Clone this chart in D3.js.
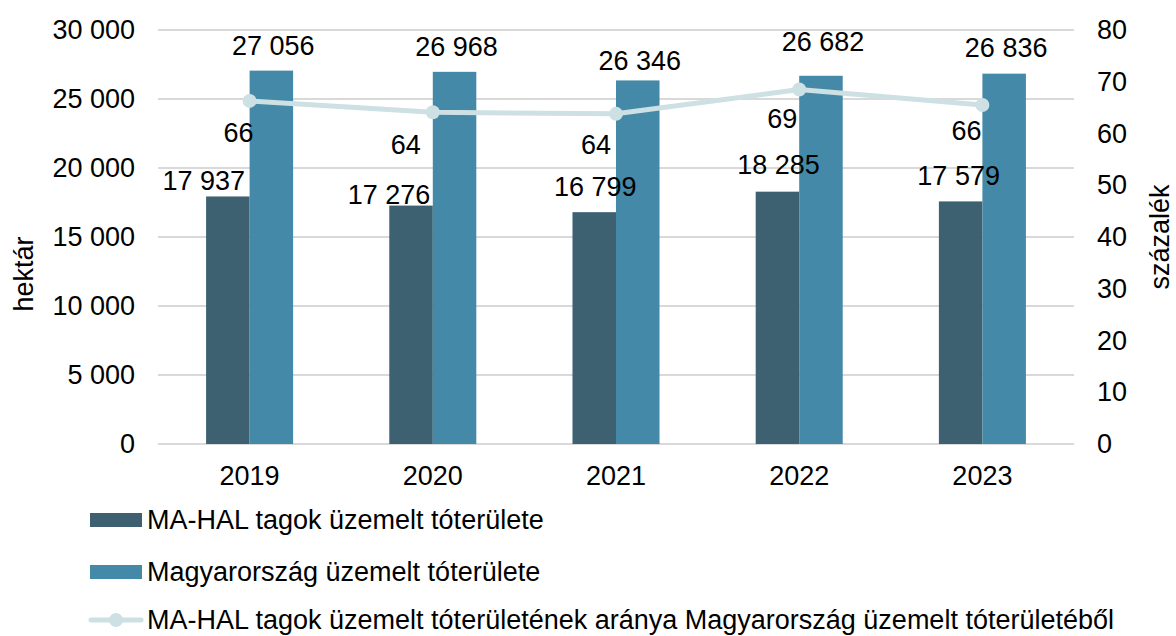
<!DOCTYPE html>
<html><head><meta charset="utf-8">
<script src="https://cdn.jsdelivr.net/npm/d3@7"></script>
<style>
html,body{margin:0;padding:0;background:#fff;}
svg{display:block;font-family:"Liberation Sans",Arial,sans-serif;}
</style></head>
<body>
<svg id="c" width="1176" height="636"></svg>
<script>
const years = ["2019","2020","2021","2022","2023"];
const mahal = [17937, 17276, 16799, 18285, 17579];
const hungary = [27056, 26968, 26346, 26682, 26836];
const share = [66.3, 64.1, 63.8, 68.5, 65.5];
const shareLabels = ["66","64","64","69","66"];
const leftTicks = [0,5000,10000,15000,20000,25000,30000];
const rightTicks = [0,10,20,30,40,50,60,70,80];
const seriesNames = ["MA-HAL tagok üzemelt tóterülete","Magyarország üzemelt tóterülete","MA-HAL tagok üzemelt tóterületének aránya Magyarország üzemelt tóterületéből"];

const colDark = "#3d6170", colLight = "#4489a7", colLine = "#cde0e3", colGrid = "#d9d9d9";
const fs = 27;
const svg = d3.select("#c");
const L = 158, R = 1074, T = 30, B = 444;

const x = d3.scaleBand().domain(years).range([L, R]).padding(0);
const yL = d3.scaleLinear().domain([0, 30000]).range([B, T]);
const yR = d3.scaleLinear().domain([0, 80]).range([B, T]);
const bw = x.bandwidth() * 0.2375;
const fmt = v => d3.format(",")(v).replace(/,/g, " ");
const ff = "Liberation Sans, Arial, sans-serif";

// gridlines
svg.append("g").selectAll("line").data(leftTicks).join("line")
  .attr("x1", L).attr("x2", R).attr("y1", d => yL(d)).attr("y2", d => yL(d))
  .attr("stroke", colGrid).attr("stroke-width", 2);

// left axis
const gl = svg.append("g").attr("transform", `translate(${L},0)`)
  .call(d3.axisLeft(yL).tickValues(leftTicks).tickFormat(fmt).tickSize(0).tickPadding(23));
gl.select(".domain").remove();
gl.selectAll("text").attr("font-size", fs).attr("fill", "#000").attr("font-family", ff);

// right axis
const gr = svg.append("g").attr("transform", `translate(${R},0)`)
  .call(d3.axisRight(yR).tickValues(rightTicks).tickSize(0).tickPadding(23));
gr.select(".domain").remove();
gr.selectAll("text").attr("font-size", fs).attr("fill", "#000").attr("font-family", ff);

// x axis
const gx = svg.append("g").attr("transform", `translate(0,${B})`)
  .call(d3.axisBottom(x).tickSize(0).tickPadding(22));
gx.select(".domain").remove();
gx.selectAll("text").attr("font-size", fs).attr("fill", "#000").attr("font-family", ff);

// axis titles
svg.append("text").attr("transform", `translate(33,274) rotate(-90)`)
  .attr("text-anchor", "middle").attr("font-size", fs).text("hektár");
svg.append("text").attr("transform", `translate(1169,${(T+B)/2}) rotate(-90)`)
  .attr("text-anchor", "middle").attr("font-size", fs).text("százalék");

// bars
const cx = d => x(d) + x.bandwidth() / 2;
svg.append("g").selectAll("rect").data(years).join("rect")
  .attr("x", d => cx(d) - bw).attr("width", bw)
  .attr("y", (d,i) => yL(mahal[i])).attr("height", (d,i) => B - yL(mahal[i]))
  .attr("fill", colDark);
svg.append("g").selectAll("rect").data(years).join("rect")
  .attr("x", d => cx(d)).attr("width", bw)
  .attr("y", (d,i) => yL(hungary[i])).attr("height", (d,i) => B - yL(hungary[i]))
  .attr("fill", colLight);

// line
const line = d3.line().x((d,i) => cx(years[i])).y(d => yR(d));
svg.append("path").datum(share).attr("d", line)
  .attr("fill", "none").attr("stroke", colLine).attr("stroke-width", 5);
svg.append("g").selectAll("circle").data(share).join("circle")
  .attr("cx", (d,i) => cx(years[i])).attr("cy", d => yR(d)).attr("r", 7)
  .attr("fill", colLine);

// data labels (nudges mimic the hand-placed labels of the original)
const nudgeDark = [[-24,-16],[-22,-11],[1,-26],[1,-27],[-2,-26]];
const nudgeLight = [[2,-25],[2,-25],[2,-20],[2,-34],[2,-26]];
const nudgeLine = [[-11,32],[-27,32],[-20,31],[-17,29],[-16,26]];
const lbl = svg.append("g").attr("font-size", fs).attr("text-anchor", "middle");
lbl.selectAll("text.d").data(mahal).join("text").attr("class","d")
  .attr("x", (d,i) => cx(years[i]) - bw/2 + nudgeDark[i][0])
  .attr("y", (d,i) => yL(d) + nudgeDark[i][1]).attr("dy", "0.35em").text(fmt);
lbl.selectAll("text.l").data(hungary).join("text").attr("class","l")
  .attr("x", (d,i) => cx(years[i]) + bw/2 + nudgeLight[i][0])
  .attr("y", (d,i) => yL(d) + nudgeLight[i][1]).attr("dy", "0.35em").text(fmt);
lbl.selectAll("text.p").data(share).join("text").attr("class","p")
  .attr("x", (d,i) => cx(years[i]) + nudgeLine[i][0])
  .attr("y", (d,i) => yR(d) + nudgeLine[i][1]).attr("dy", "0.35em").text((d,i) => shareLabels[i]);

// legend
const lg = svg.append("g");
const rows = [520, 572, 620];
lg.append("rect").attr("x", 90).attr("y", rows[0]-7).attr("width", 52).attr("height", 14).attr("fill", colDark);
lg.append("rect").attr("x", 90).attr("y", rows[1]-7).attr("width", 52).attr("height", 14).attr("fill", colLight);
lg.append("line").attr("x1", 91).attr("x2", 141).attr("y1", rows[2]).attr("y2", rows[2])
  .attr("stroke", colLine).attr("stroke-width", 5).attr("stroke-linecap", "round");
lg.append("circle").attr("cx", 116).attr("cy", rows[2]).attr("r", 7).attr("fill", colLine);
lg.selectAll("text").data(seriesNames).join("text")
  .attr("x", 147).attr("y", (d,i) => rows[i]).attr("dy", "0.35em")
  .attr("font-size", fs).text(d => d);
</script>
</body></html>
